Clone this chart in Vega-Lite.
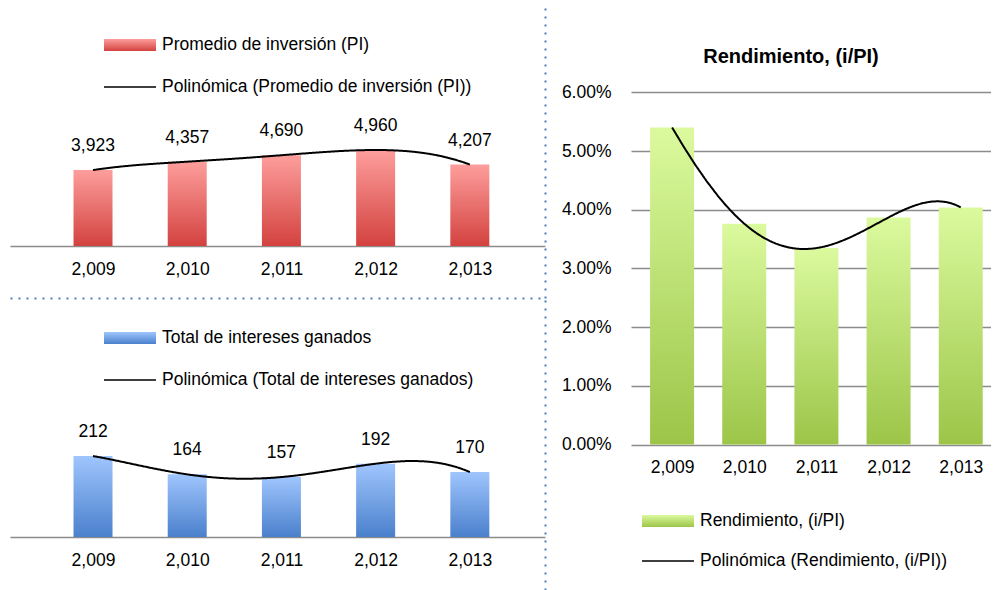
{
  "$schema": "https://vega.github.io/schema/vega-lite/v6.json",
  "background": "white",
  "padding": {"left": 10, "top": 5, "right": 0, "bottom": 0},
  "spacing": 16,
  "resolve": {"scale": {"stroke": "independent", "strokeDash": "independent"}, "legend": {"stroke": "independent", "strokeDash": "independent"}},
  "config": {
    "font": "Liberation Sans",
    "view": {"stroke": null},
    "axis": {"labelFont": "Liberation Sans", "labelFontSize": 17.5, "labelColor": "black", "ticks": false, "tickSize": 0, "domain": false, "grid": false},
    "legend": {"labelFont": "Liberation Sans", "labelFontSize": 17.5, "labelColor": "black", "direction": "vertical", "symbolSize": 1600, "labelOffset": 17, "rowPadding": 2, "labelLimit": 600, "padding": 0}
  },
  "datasets": {
    "pi": [
      {"year": 2009, "v": 3923, "serie": "Promedio de inversión (PI)", "trend": "Polinómica (Promedio de inversión (PI))"},
      {"year": 2010, "v": 4357, "serie": "Promedio de inversión (PI)", "trend": "Polinómica (Promedio de inversión (PI))"},
      {"year": 2011, "v": 4690, "serie": "Promedio de inversión (PI)", "trend": "Polinómica (Promedio de inversión (PI))"},
      {"year": 2012, "v": 4960, "serie": "Promedio de inversión (PI)", "trend": "Polinómica (Promedio de inversión (PI))"},
      {"year": 2013, "v": 4207, "serie": "Promedio de inversión (PI)", "trend": "Polinómica (Promedio de inversión (PI))"}
    ],
    "ig": [
      {"year": 2009, "v": 212, "serie": "Total de intereses ganados", "trend": "Polinómica (Total de intereses ganados)"},
      {"year": 2010, "v": 164, "serie": "Total de intereses ganados", "trend": "Polinómica (Total de intereses ganados)"},
      {"year": 2011, "v": 157, "serie": "Total de intereses ganados", "trend": "Polinómica (Total de intereses ganados)"},
      {"year": 2012, "v": 192, "serie": "Total de intereses ganados", "trend": "Polinómica (Total de intereses ganados)"},
      {"year": 2013, "v": 170, "serie": "Total de intereses ganados", "trend": "Polinómica (Total de intereses ganados)"}
    ],
    "rend": [
      {"year": 2009, "r": 0.05404, "serie": "Rendimiento, (i/PI)", "trend": "Polinómica (Rendimiento, (i/PI))"},
      {"year": 2010, "r": 0.03764, "serie": "Rendimiento, (i/PI)", "trend": "Polinómica (Rendimiento, (i/PI))"},
      {"year": 2011, "r": 0.03348, "serie": "Rendimiento, (i/PI)", "trend": "Polinómica (Rendimiento, (i/PI))"},
      {"year": 2012, "r": 0.03871, "serie": "Rendimiento, (i/PI)", "trend": "Polinómica (Rendimiento, (i/PI))"},
      {"year": 2013, "r": 0.04041, "serie": "Rendimiento, (i/PI)", "trend": "Polinómica (Rendimiento, (i/PI))"}
    ]
  },
  "hconcat": [
    {
      "vconcat": [
        {
          "width": 535,
          "height": 293,
          "data": {"name": "pi"},
          "resolve": {"axis": {"x": "independent", "y": "independent"}},
          "layer": [
            {
              "mark": {
                "type": "bar",
                "width": 39,
                "fill": {"gradient": "linear", "x1": 0, "y1": 0, "x2": 0, "y2": 1, "stops": [{"offset": 0, "color": "#fd9e9c"}, {"offset": 1, "color": "#d3423f"}]}
              },
              "encoding": {
                "x": {
                  "field": "year", "type": "quantitative",
                  "scale": {"domain": [2008.1719, 2013.7448], "nice": false, "zero": false},
                  "axis": {"values": [2009, 2010, 2011, 2012, 2013], "format": ",d", "offset": -52, "labelPadding": 14, "title": null, "domain": true, "domainColor": "#8c8c8c", "domainWidth": 1.5}
                },
                "y": {
                  "field": "v", "type": "quantitative",
                  "scale": {"domain": [-2687, 12452], "nice": false, "zero": false},
                  "axis": null
                },
                "stroke": {
                  "field": "serie", "type": "nominal",
                  "scale": {"range": ["transparent"]},
                  "legend": {"title": null, "orient": "none", "legendX": 93, "legendY": 19, "symbolType": "M-1,-0.3H1.6V0.3H-1Z"}
                }
              }
            },
            {
              "mark": {"type": "text", "fontSize": 17.5, "font": "Liberation Sans", "dy": -24, "baseline": "middle", "color": "black"},
              "encoding": {
                "x": {"field": "year", "type": "quantitative", "axis": {"orient": "bottom", "labels": false, "title": null, "domain": true, "domainColor": "#4a7ebb", "domainDash": [2, 6], "domainWidth": 2}},
                "y": {"field": "v", "type": "quantitative", "axis": {"orient": "right", "labels": false, "title": null, "domain": true, "domainColor": "#4a7ebb", "domainDash": [2, 6], "domainWidth": 2}},
                "text": {"field": "v", "type": "quantitative", "format": ","}
              }
            },
            {
              "transform": [{"regression": "v", "on": "year", "method": "poly", "order": 4, "groupby": ["trend"]}],
              "mark": {"type": "line", "stroke": "black", "strokeWidth": 2},
              "encoding": {
                "x": {"field": "year", "type": "quantitative", "axis": null},
                "y": {"field": "v", "type": "quantitative", "axis": null},
                "strokeDash": {
                  "field": "trend", "type": "nominal",
                  "scale": {"range": [[1, 0]]},
                  "legend": {"title": null, "orient": "none", "legendX": 93, "legendY": 61, "symbolType": "M-1,0H1.6", "symbolStrokeWidth": 1.5, "symbolStrokeColor": "black"}
                }
              }
            }
          ]
        },
        {
          "width": 535,
          "height": 292,
          "data": {"name": "ig"},
          "resolve": {"axis": {"x": "independent", "y": "independent"}},
          "layer": [
            {
              "mark": {
                "type": "bar",
                "width": 39,
                "fill": {"gradient": "linear", "x1": 0, "y1": 0, "x2": 0, "y2": 1, "stops": [{"offset": 0, "color": "#9fc5fd"}, {"offset": 1, "color": "#4a80cc"}]}
              },
              "encoding": {
                "x": {
                  "field": "year", "type": "quantitative",
                  "scale": {"domain": [2008.1719, 2013.7448], "nice": false, "zero": false},
                  "axis": {"values": [2009, 2010, 2011, 2012, 2013], "format": ",d", "offset": -53, "labelPadding": 14, "title": null, "domain": true, "domainColor": "#8c8c8c", "domainWidth": 1.5}
                },
                "y": {
                  "field": "v", "type": "quantitative",
                  "scale": {"domain": [-138.7, 625.7], "nice": false, "zero": false},
                  "axis": null
                },
                "stroke": {
                  "field": "serie", "type": "nominal",
                  "scale": {"range": ["transparent"]},
                  "legend": {"title": null, "orient": "none", "legendX": 93, "legendY": 19, "symbolType": "M-1,-0.3H1.6V0.3H-1Z"}
                }
              }
            },
            {
              "mark": {"type": "text", "fontSize": 17.5, "font": "Liberation Sans", "dy": -24, "baseline": "middle", "color": "black"},
              "encoding": {
                "x": {"field": "year", "type": "quantitative", "axis": null},
                "y": {"field": "v", "type": "quantitative", "axis": {"orient": "right", "labels": false, "title": null, "domain": true, "domainColor": "#4a7ebb", "domainDash": [2, 6], "domainWidth": 2}},
                "text": {"field": "v", "type": "quantitative", "format": ","}
              }
            },
            {
              "transform": [{"regression": "v", "on": "year", "method": "poly", "order": 4, "groupby": ["trend"]}],
              "mark": {"type": "line", "stroke": "black", "strokeWidth": 2},
              "encoding": {
                "x": {"field": "year", "type": "quantitative", "axis": null},
                "y": {"field": "v", "type": "quantitative", "axis": null},
                "strokeDash": {
                  "field": "trend", "type": "nominal",
                  "scale": {"range": [[1, 0]]},
                  "legend": {"title": null, "orient": "none", "legendX": 93, "legendY": 61, "symbolType": "M-1,0H1.6", "symbolStrokeWidth": 1.5, "symbolStrokeColor": "black"}
                }
              }
            }
          ]
        }
      ],
      "spacing": 0,
      "resolve": {"scale": {"stroke": "independent", "strokeDash": "independent"}, "legend": {"stroke": "independent", "strokeDash": "independent"}}
    },
    {
      "width": 360,
      "height": 439.5,
      "data": {"name": "rend"},
      "title": {"text": "Rendimiento, (i/PI)", "font": "Liberation Sans", "fontSize": 20, "fontWeight": "bold", "color": "black", "anchor": "middle", "frame": "group", "baseline": "alphabetic", "offset": -78, "dx": -20},
      "layer": [
        {
          "mark": {
            "type": "bar",
            "width": 44,
            "fill": {"gradient": "linear", "x1": 0, "y1": 0, "x2": 0, "y2": 1, "stops": [{"offset": 0, "color": "#dbfa9e"}, {"offset": 1, "color": "#9cc548"}]}
          },
          "encoding": {
            "x": {
              "field": "year", "type": "quantitative",
              "scale": {"domain": [2008.5, 2013.35], "nice": false, "zero": false},
              "axis": {"values": [2009, 2010, 2011, 2012, 2013], "format": ",d", "labelPadding": 14, "title": null}
            },
            "y": {
              "field": "r", "type": "quantitative",
              "scale": {"domain": [0, 0.07491], "nice": false},
              "axis": {"values": [0, 0.01, 0.02, 0.03, 0.04, 0.05, 0.06], "format": ".2%", "grid": true, "gridColor": "#8c8c8c", "gridWidth": 1.5, "labelPadding": 20, "title": null}
            },
            "stroke": {
              "field": "serie", "type": "nominal",
              "scale": {"range": ["transparent"]},
              "legend": {"title": null, "orient": "none", "legendX": 10, "legendY": 495, "symbolType": "M-1,-0.3H1.6V0.3H-1Z"}
            }
          }
        },
        {
          "transform": [{"regression": "r", "on": "year", "method": "poly", "order": 4, "groupby": ["trend"]}],
          "mark": {"type": "line", "stroke": "black", "strokeWidth": 2},
          "encoding": {
            "x": {"field": "year", "type": "quantitative"},
            "y": {"field": "r", "type": "quantitative"},
            "strokeDash": {
              "field": "trend", "type": "nominal",
              "scale": {"range": [[1, 0]]},
              "legend": {"title": null, "orient": "none", "legendX": 10, "legendY": 535, "symbolType": "M-1,0H1.6", "symbolStrokeWidth": 1.5, "symbolStrokeColor": "black"}
            }
          }
        }
      ]
    }
  ]
}
